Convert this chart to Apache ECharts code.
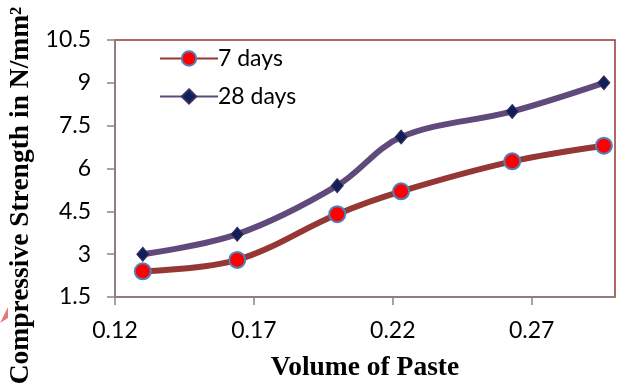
<!DOCTYPE html>
<html lang="en">
<head>
    <meta charset="UTF-8">
    <script src="https://cdn.jsdelivr.net/npm/echarts@6/dist/echarts.min.js"></script>
    <style>
        html, body { margin: 0; width: 100%; height: 100%; background: #fff; }
        #chart { width: 623px; height: 388px; }
    </style>
</head>
<body>
    <div id="chart"></div>
    <script>
        // values
        var pasteVolume = [0.13, 0.164, 0.2, 0.223, 0.263, 0.296];
        var days7 = [2.4, 2.8, 4.4, 5.2, 6.25, 6.8];
        var days28 = [3.0, 3.7, 5.4, 7.1, 8.0, 9.0];
        var seriesNames = ['7 days', '28 days'];

        function pairs(xs, ys) {
            return xs.map(function (x, i) { return [x, ys[i]]; });
        }

        var chart = echarts.init(document.getElementById('chart'));
        var labelFont = { fontFamily: 'Lato', fontSize: 23, color: '#000' };
        var nameFont = { fontFamily: 'Liberation Serif', fontWeight: 'bold', fontSize: 27.5, color: '#000' };

        chart.setOption({
            animation: false,
            grid: {
                left: 115, right: 8, top: 40, bottom: 91,
                outerBoundsMode: 'none',
                containLabel: false,
                show: true, borderColor: '#953735', borderWidth: 1.5
            },
            legend: {
                orient: 'vertical',
                left: 154, top: 42,
                itemWidth: 58, itemHeight: 18, itemGap: 15,
                textStyle: { fontFamily: 'Lato', fontSize: 23, color: '#000', padding: [0, 0, 0, -5] },
                data: seriesNames
            },
            xAxis: {
                type: 'value',
                min: 0.12, max: 0.30, interval: 0.05,
                name: 'Volume of Paste',
                nameLocation: 'middle', nameGap: 57,
                nameTextStyle: nameFont,
                axisLine: { lineStyle: { color: '#868686', width: 1.5 } },
                axisTick: { show: true, length: 8, lineStyle: { color: '#868686', width: 1.5 } },
                axisLabel: Object.assign({ margin: 22, showMaxLabel: false }, labelFont),
                splitLine: { show: false }
            },
            yAxis: {
                type: 'value',
                min: 1.5, max: 10.5, interval: 1.5,
                name: 'Compressive Strength in N/mm²',
                nameLocation: 'middle', nameGap: 76,
                nameTextStyle: Object.assign({ padding: [0, 54, 0, 0] }, nameFont),
                axisLine: { show: true, lineStyle: { color: '#868686', width: 1.5 } },
                axisTick: { show: true, length: 8, lineStyle: { color: '#868686', width: 1.5 } },
                axisLabel: Object.assign({ margin: 24 }, labelFont),
                splitLine: { show: false }
            },
            graphic: [{
                type: 'polygon',
                shape: { points: [[0, 323], [8, 307], [8, 318]] },
                style: { fill: '#e07b7b' }
            }],
            series: [{
                name: seriesNames[0],
                type: 'line',
                smooth: 0.35,
                data: pairs(pasteVolume, days7),
                symbol: 'circle',
                symbolSize: 16,
                lineStyle: { color: '#953735', width: 6 },
                itemStyle: { color: '#ff0000', borderColor: '#4f81bd', borderWidth: 2 }
            }, {
                name: seriesNames[1],
                type: 'line',
                smooth: 0.35,
                data: pairs(pasteVolume, days28),
                symbol: 'diamond',
                symbolSize: [12, 14],
                lineStyle: { color: '#604a7b', width: 6 },
                itemStyle: { color: '#0f1f5a', borderColor: '#3c2f5a', borderWidth: 1 }
            }]
        });
    </script>
</body>
</html>
